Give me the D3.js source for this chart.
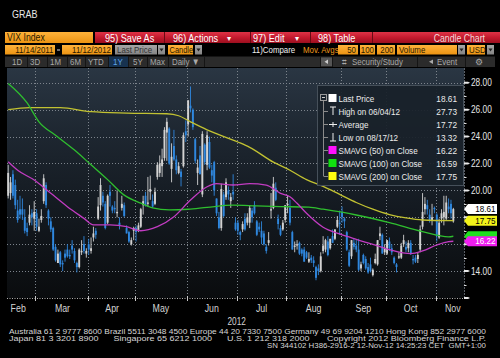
<!DOCTYPE html>
<html><head><meta charset="utf-8">
<script src="https://cdn.jsdelivr.net/npm/d3@7"></script>
<style>
html,body{margin:0;padding:0;background:#000;overflow:hidden;}
svg{display:block;}
text{font-family:"Liberation Sans",Arial,sans-serif;}
</style></head><body>
<svg id="c" width="500" height="358"></svg>
<script>
// ---------------- DATA ----------------
const monthLabels = ["Feb","Mar","Apr","May","Jun","Jul","Aug","Sep","Oct","Nov"];
// index of first trading day of each month (Feb starts at 13-Feb-2012)
const monthStartIdx = [0, 12, 34, 54, 76, 97, 118, 141, 160, 181];
const yearLabel = "2012";
const yTicks = [14, 16, 18, 20, 22, 24, 26, 28];
const yMinorTicks = [13, 15, 17, 19, 21, 23, 25, 27];

// daily VIX candles [open, high, low, close], 13-Feb-2012 .. 12-Nov-2012
const candleOHLC = [
[19.6,21.9,19.4,21.3],[19.8,21.0,19.3,20.6],[21.2,21.5,19.4,19.6],[20.4,20.8,18.6,18.9],[18.5,19.3,17.6,17.8],
[18.6,19.6,17.9,18.2],[18.6,19.4,17.8,18.2],[18.0,18.6,16.8,17.0],[17.2,17.6,16.6,16.9],[17.6,18.9,17.4,18.2],
[18.3,18.6,17.4,18.0],[17.9,19.2,17.0,18.4],
[18.3,18.6,17.0,17.3],[17.0,17.9,16.9,17.3],[17.8,18.6,17.6,18.1],[19.2,21.2,19.0,20.9],[20.4,20.6,18.7,18.9],
[18.5,18.6,17.4,17.9],[17.7,18.0,16.9,17.1],[17.2,17.3,15.5,15.6],[15.8,16.0,14.7,14.8],[14.6,15.6,14.6,15.3],
[15.4,15.5,14.3,14.5],[14.6,14.8,14.0,14.5],[15.3,15.6,14.7,15.0],[15.6,16.0,15.0,15.1],[15.2,15.6,14.9,15.1],
[15.9,16.3,15.3,15.6],[15.5,15.7,14.6,14.8],[14.6,14.7,13.9,14.3],[14.3,15.7,14.2,15.6],[15.4,16.3,15.2,15.5],
[16.0,16.6,15.3,15.5],[15.3,15.7,15.0,15.5],
[16.0,16.4,15.2,15.6],[15.5,16.5,15.3,15.7],[16.5,17.3,16.2,16.8],[17.0,17.2,16.4,16.7],[17.9,19.5,17.8,18.8],
[18.9,20.9,18.5,20.4],[19.6,19.9,18.8,19.1],[19.0,19.2,17.1,17.2],[17.6,19.7,17.5,19.6],[19.9,20.4,18.8,19.6],
[18.8,18.9,18.3,18.5],[18.7,19.2,18.3,18.6],[18.3,20.0,18.0,18.4],[17.6,18.0,17.1,17.4],[18.7,19.6,18.5,19.0],
[18.9,19.1,18.0,18.1],[17.2,17.4,16.8,16.8],[16.9,17.0,16.1,16.2],[16.0,16.5,15.9,16.3],[17.0,17.3,16.3,17.2],
[17.2,17.4,16.2,16.9],[17.0,17.6,16.9,17.4],[17.3,18.7,17.2,18.6],[18.9,19.6,18.2,19.2],[19.6,19.9,18.8,18.9],
[19.0,21.0,18.8,19.1],[19.9,21.1,19.3,20.1],[19.2,19.7,18.7,18.8],[19.0,20.2,18.9,19.9],[21.0,22.1,20.8,21.9],
[21.3,22.6,21.0,22.0],[21.8,23.1,21.0,22.3],[22.4,24.7,22.2,24.5],[24.3,25.4,22.2,25.1],[24.6,24.7,21.9,22.0],
[21.6,23.5,20.6,22.5],[23.3,24.5,22.2,22.3],[22.3,22.6,21.2,21.5],[21.3,22.1,21.2,21.8],[21.4,21.6,20.3,21.0],
[21.8,24.3,21.7,24.1],[24.4,25.2,23.6,24.1],
[24.9,26.7,24.0,26.7],[26.3,27.73,25.8,26.1],[26.0,26.1,24.5,24.7],[23.8,23.9,22.0,22.2],[21.3,22.3,20.4,21.7],
[22.6,23.3,21.2,21.2],[19.7,24.4,19.5,24.2],[23.4,23.5,21.9,22.1],[21.9,24.4,21.5,24.1],[23.6,24.0,21.6,21.7],
[21.5,21.9,20.6,21.1],[22.1,22.2,19.6,20.0],[19.4,19.4,18.1,18.3],[18.0,18.4,17.1,17.2],[17.2,20.5,17.0,20.1],
[19.7,19.9,18.0,18.1],[19.5,20.9,19.3,20.6],[20.0,20.3,19.3,19.7],[19.2,19.8,18.7,19.5],[19.9,21.2,19.3,19.7],
[17.6,18.0,17.0,17.1],
[17.6,17.8,16.7,17.0],[16.9,17.0,16.3,16.7],[17.1,17.7,16.9,17.5],[17.9,18.3,17.0,17.1],[17.6,18.3,17.4,18.0],
[17.6,18.9,17.2,18.7],[18.5,18.7,17.6,18.0],[18.9,19.2,18.2,18.3],[17.7,17.8,16.6,16.7],[17.3,17.6,16.9,17.1],
[17.0,17.7,16.0,16.5],[16.8,17.0,15.9,16.0],[15.8,16.0,15.3,15.5],[16.1,16.9,15.9,16.3],[18.5,19.8,17.9,18.6],
[18.7,21.0,18.6,20.5],[20.2,20.6,19.2,19.3],[17.9,18.2,17.1,17.5],[17.2,17.4,16.6,16.7],[17.1,17.8,17.0,17.6],
[17.8,18.9,17.6,18.9],
[18.9,19.6,18.3,19.0],[18.7,19.3,17.4,17.6],[16.9,17.0,15.6,15.6],[15.8,16.2,15.4,15.9],[15.9,16.3,15.6,16.0],
[16.1,16.2,15.2,15.3],[15.6,15.7,15.1,15.3],[15.6,15.8,14.7,14.7],[15.4,15.5,14.9,15.0],[14.7,15.4,14.6,14.9],
[15.0,15.2,14.6,14.8],[14.8,15.1,14.3,14.6],[14.3,14.4,13.32,13.5],[14.2,14.5,13.7,14.0],[14.0,15.4,13.9,15.1],
[15.5,16.6,15.3,15.9],[15.6,16.4,15.4,16.3],[16.2,16.6,15.1,15.2],[15.7,16.4,15.6,16.4],[16.6,17.1,16.1,16.1],
[16.4,17.1,16.3,17.1],[17.3,18.1,17.2,17.8],[17.6,18.5,16.7,17.5],
[18.4,18.8,17.6,18.0],[17.9,18.0,17.2,17.7],[16.9,17.0,15.5,15.6],[15.4,15.6,14.3,14.4],[15.1,16.3,14.9,16.3],
[16.1,16.4,15.6,15.8],[15.9,16.3,15.4,15.6],[15.6,16.4,14.0,14.1],[14.2,14.7,14.0,14.5],[15.2,15.3,14.5,14.6],
[14.9,15.1,14.1,14.2],[14.3,14.6,13.8,13.9],[14.5,15.0,13.9,14.0],[13.7,14.2,13.6,14.1],[14.6,15.3,14.5,14.9],
[14.5,16.3,14.4,16.3],[16.6,17.3,16.3,16.8],[16.7,16.8,15.3,15.3],[15.4,16.0,15.2,15.7],
[15.3,16.3,15.2,16.3],[16.2,16.5,15.5,15.7],[15.7,16.0,15.2,15.4],[15.0,15.1,14.5,14.6],[14.5,14.6,13.9,14.3],
[15.0,15.4,14.9,15.1],[15.0,16.1,14.9,15.9],[16.0,16.7,15.8,16.3],[15.8,16.2,15.4,15.6],[15.7,16.3,15.4,16.1],
[16.1,16.3,15.2,15.3],[14.9,15.2,14.5,14.8],[15.0,15.2,14.6,14.7],[14.9,15.4,14.6,15.2],[15.6,17.4,15.4,17.1],
[17.3,19.8,17.1,18.4],[18.6,19.5,18.2,19.0],[18.9,19.3,18.2,18.6],[18.2,18.6,17.6,17.8],[17.8,19.0,17.4,18.0],
[18.7,18.8,18.3,18.6],
[18.2,18.3,16.2,16.6],[16.5,17.9,16.4,17.6],[17.9,18.6,17.6,18.3],[18.0,19.6,17.4,18.4],[17.9,19.6,17.8,19.1],
[18.8,19.4,18.3,18.6],[19.0,19.3,17.9,18.3],[17.7,18.7,17.6,18.61]
];

// moving averages: [candle index, value]
const sma50 = [[0,22.13],[4,21.5],[11,20.77],[18,19.78],[25,18.79],[32,17.92],[36,17.43],[43,17.43],[50,17.3],
  [56,17.0],[63,17.3],[70,18.04],[77,19.28],[84,20.27],[88,20.5],[95,20.4],[102,20.5],[109,20.4],[115,19.78],
  [119,19.53],[122,19.04],[126,18.3],[133,17.26],[140,16.76],[147,16.36],[154,15.99],[161,15.6],[170,15.3],
  [175,15.5],[181,15.94],[186,16.19],[188,16.22]];
const sma100 = [[0,27.95],[8,26.5],[13,25.1],[20,24.1],[28,23.0],[35,21.9],[42,20.8],[49,19.65],[56,19.05],
  [61,18.7],[68,18.55],[76,18.6],[84,18.74],[95,18.9],[105,18.85],[115,18.8],[127,18.75],[133,18.6],[147,18.17],
  [161,17.6],[175,16.93],[186,16.55],[188,16.59]];
const sma200 = [[0,26.0],[9,26.15],[22,26.15],[35,25.85],[50,25.75],[67,25.7],[72,25.55],[77,25.1],[84,24.5],
  [97,23.6],[102,23.2],[112,22.1],[119,21.5],[126,20.8],[133,20.3],[140,19.7],[147,19.1],[154,18.6],[161,18.2],
  [168,17.95],[175,17.8],[188,17.75]];

const legendLabels = ["Last Price","High on 06/04/12","Average","Low on 08/17/12",
  "SMAVG (50) on Close","SMAVG (100) on Close","SMAVG (200) on Close"];
const legendValues = ["18.61","27.73","17.72","13.32","16.22","16.59","17.75"];
const lastPrice = 18.61, sma50Last = 16.22, sma100Last = 16.59, sma200Last = 17.75;

const footerLines = [
 "Australia 61 2 9777 8600 Brazil 5511 3048 4500 Europe 44 20 7330 7500 Germany 49 69 9204 1210 Hong Kong 852 2977 6000",
 "Japan 81 3 3201 8900      Singapore 65 6212 1000      U.S. 1 212 318 2000       Copyright 2012 Bloomberg Finance L.P.",
 "SN 344102 H386-2916-2 12-Nov-12 14:25:23 CET  GMT+1:00"
];

// ---------------- DRAW ----------------
const svg = d3.select("#c");
svg.append("rect").attr("width",500).attr("height",358).attr("fill","#000");
const defs = svg.append("defs");
function grad(id, stops){
  const g = defs.append("linearGradient").attr("id",id).attr("x1",0).attr("y1",0).attr("x2",0).attr("y2",1);
  stops.forEach(s=>g.append("stop").attr("offset",s[0]).attr("stop-color",s[1]));
}
grad("bg",[[0,"#2a3643"],[0.28,"#1e2731"],[0.6,"#141a21"],[1,"#0a0c0e"]]);
grad("red",[[0,"#de3346"],[0.5,"#c41a2e"],[1,"#9c0f1f"]]);
grad("org",[[0,"#ffb23a"],[1,"#ec9413"]]);
grad("gry",[[0,"#a6a6a6"],[1,"#848484"]]);

function T(parent, x, y, s, o={}){
  const t = parent.append("text").attr("x",x).attr("y",y).text(s)
    .attr("font-size", o.size||10).attr("fill", o.fill||"#fff")
    .attr("text-anchor", o.anchor||"start");
  if (o.family) t.attr("font-family", o.family);
  if (o.pre) t.attr("xml:space","preserve").style("white-space","pre");
  if (o.len) t.attr("textLength",o.len).attr("lengthAdjust","spacingAndGlyphs");
  else {
    const cf = o.cond===undefined ? 0.83 : o.cond;
    if (cf!==1){ const L=t.node().getComputedTextLength(); t.attr("textLength",L*cf).attr("lengthAdjust","spacingAndGlyphs"); }
  }
  return t;
}

// ---- header ----
const hd = svg.append("g");
T(hd, 12, 17.5, "GRAB", {size:11.5, fill:"#e8e8e8", cond:0.78});
// row 1
hd.append("rect").attr("x",5).attr("y",32).attr("width",88).attr("height",11).attr("fill","url(#org)");
T(hd, 7, 41, "VIX Index", {size:10.5, fill:"#2a1a00"});
hd.append("rect").attr("x",95).attr("y",32).attr("width",405).attr("height",11).attr("fill","url(#red)");
[164, 250, 310, 372].forEach(sx=>hd.append("rect").attr("x",sx).attr("y",32).attr("width",1).attr("height",11).attr("fill","#6a0a14"));
T(hd, 105, 41.5, "95) Save As", {size:11});
T(hd, 173, 41.5, "96) Actions", {size:11});
T(hd, 227, 41, "▾", {size:8, cond:1});
T(hd, 253, 41.5, "97) Edit", {size:11});
T(hd, 295, 41, "▾", {size:8, cond:1});
T(hd, 318, 41.5, "98) Table", {size:11});
T(hd, 485, 41.5, "Candle Chart", {size:10.5, fill:"#f4dada", anchor:"end"});
// row 2
function box(x,w,fill){ hd.append("rect").attr("x",x).attr("y",45).attr("width",w).attr("height",9.5).attr("fill",fill); }
function dd(x){
  box(x,7,"url(#gry)");
  hd.append("path").attr("d",`M${x+1.5},48.5L${x+5.5},48.5L${x+3.5},51.5Z`).attr("fill","#222");
}
box(5,50,"url(#org)"); T(hd, 53.5, 53, "11/14/2011", {size:9.5, fill:"#2a1a00", anchor:"end"});
hd.append("rect").attr("x",57).attr("y",49.5).attr("width",3).attr("height",1).attr("fill","#ddd");
box(62,50,"url(#org)"); T(hd, 111, 53, "11/12/2012", {size:9.5, fill:"#2a1a00", anchor:"end"});
box(115,42,"url(#gry)"); T(hd, 117, 53, "Last Price", {size:9.5, fill:"#333"});
dd(158);
box(168,25,"url(#org)"); T(hd, 169.5, 53, "Candle", {size:9, fill:"#2a1a00"});
dd(195);
T(hd, 252, 53, "11)Compare", {size:9.5, fill:"#f0f0f0"});
T(hd, 303, 53, "Mov. Avgs", {size:9.5, fill:"#f09a1c"});
box(338,20,"url(#org)"); T(hd, 356, 53, "50", {size:9.5, fill:"#2a1a00", anchor:"end"});
box(360,15,"url(#org)"); T(hd, 374, 53, "100", {size:9.5, fill:"#2a1a00", anchor:"end"});
box(377,18,"url(#org)"); T(hd, 393.5, 53, "200", {size:9.5, fill:"#2a1a00", anchor:"end"});
box(397,60,"url(#org)"); T(hd, 399, 53, "Volume", {size:9.5, fill:"#2a1a00"});
dd(458);
box(467,18,"url(#org)"); T(hd, 469, 53, "USD", {size:9.5, fill:"#2a1a00"});
dd(487);
// row 3
hd.append("rect").attr("x",5).attr("y",56.5).attr("width",490).attr("height",10.5).attr("fill","#2b2b2b");
hd.append("rect").attr("x",108).attr("y",56.5).attr("width",20).attr("height",10.5).attr("fill","#17324f");
[27,47,67,85,108,128,147,168,204,320,332,417,465].forEach(sx=>hd.append("rect").attr("x",sx).attr("y",56.5).attr("width",1).attr("height",10.5).attr("fill","#151515"));
[["1D",12],["3D",30],["1M",50],["6M",70],["YTD",88],["5Y",133],["Max",150],["Daily ▼",172]].forEach(d=>
  T(hd, d[1], 64.8, d[0], {size:9.5, fill:"#a9a9a9"}));
T(hd, 113, 64.8, "1Y", {size:9.5, fill:"#5ea3ea"});
hd.append("rect").attr("x",321).attr("y",57.5).attr("width",11).attr("height",8.5).attr("fill","#555");
hd.append("path").attr("d","M328,59.5L324.5,61.8L328,64Z").attr("fill","#ccc");
T(hd, 342, 64.8, "⌗", {size:8, fill:"#a9a9a9", cond:1});
T(hd, 352, 64.8, "Security/Study", {size:9.5, fill:"#a9a9a9"});
hd.append("path").attr("d","M433,59.5L429,61.8L433,64Z").attr("fill","#a9a9a9");
T(hd, 437, 64.8, "Event", {size:9.5, fill:"#a9a9a9"});
T(hd, 479, 65, "⚙", {size:8.5, fill:"#a9a9a9", anchor:"middle", cond:1});

// ---- plot ----
const PL=7, PR=464, PT=68, PB=298;
const x = d3.scaleLinear().domain([-0.5, 192.5]).range([PL, PR]);
const y = d3.scaleLinear().domain([12, 29.1]).range([PB, PT]);
const plot = svg.append("g");
plot.append("rect").attr("x",PL).attr("y",PT).attr("width",PR-PL).attr("height",PB-PT).attr("fill","url(#bg)");
defs.append("clipPath").attr("id","clip").append("rect").attr("x",PL).attr("y",PT).attr("width",PR-PL).attr("height",PB-PT);

const boundaries = monthStartIdx.slice(1).map(i=>x(i-0.5));
// grid
const grid = plot.append("g").attr("stroke","#7d848c").attr("stroke-width",1).attr("stroke-dasharray","1,2").attr("fill","none");
grid.selectAll("line.h").data(yTicks).join("line").attr("class","h")
  .attr("x1",PL).attr("x2",PR).attr("y1",d=>Math.round(y(d))+0.5).attr("y2",d=>Math.round(y(d))+0.5);
grid.selectAll("line.v").data(boundaries).join("line").attr("class","v")
  .attr("y1",PT).attr("y2",PB).attr("x1",d=>Math.round(d)+0.5).attr("x2",d=>Math.round(d)+0.5);

// candles
const cg = plot.append("g").attr("clip-path","url(#clip)");
const upC = "#d2d2d2", dnC = "#2f87de";
const cd = candleOHLC.map((r,i)=>({i, o:r[0], h:r[1], l:r[2], c:r[3]}));
cg.selectAll("line.w").data(cd).join("line").attr("class","w")
  .attr("x1",d=>x(d.i)).attr("x2",d=>x(d.i)).attr("y1",d=>y(d.h)).attr("y2",d=>y(d.l))
  .attr("stroke",d=>d.c>=d.o?upC:dnC).attr("stroke-width",0.9);
cg.selectAll("rect.b").data(cd).join("rect").attr("class","b")
  .attr("x",d=>x(d.i)-0.95).attr("width",1.9)
  .attr("y",d=>Math.min(y(d.o),y(d.c))).attr("height",d=>Math.max(1,Math.abs(y(d.o)-y(d.c))))
  .attr("fill",d=>d.c>=d.o?upC:dnC);

// moving averages
const ln = d3.line().x(d=>x(d[0])).y(d=>y(d[1])).curve(d3.curveMonotoneX);
[[sma200,"#c2c232"],[sma100,"#2fbf2f"],[sma50,"#c23cc2"]].forEach(s=>
  cg.append("path").attr("d",ln(s[0])).attr("fill","none").attr("stroke",s[1]).attr("stroke-width",1.3));

// bottom axis
const ax = svg.append("g");
ax.append("line").attr("x1",PL).attr("x2",PR).attr("y1",PB+0.5).attr("y2",PB+0.5)
  .attr("stroke","#b0b0b0").attr("stroke-dasharray","1,1.5");
ax.selectAll("line.t").data(boundaries).join("line").attr("class","t")
  .attr("x1",d=>Math.round(d)+0.5).attr("x2",d=>Math.round(d)+0.5).attr("y1",PB-2).attr("y2",PB+3)
  .attr("stroke","#c8c8c8");
const mEdges = [PL, ...boundaries, PR];
const mOffset = [-3,1,1,0,0,0,0,0,0,3];
monthLabels.forEach((m,k)=>T(ax, (mEdges[k]+mEdges[k+1])/2 + mOffset[k], 312, m, {size:11, fill:"#d4d4d4", anchor:"middle", cond:0.8}));
T(ax, boundaries[4], 325, yearLabel, {size:11, fill:"#d4d4d4", anchor:"middle", cond:0.75});

// right axis
const tagValues = [lastPrice, sma200Last, sma100Last, sma50Last];
ax.append("line").attr("x1",PR+0.5).attr("x2",PR+0.5).attr("y1",PT).attr("y2",PB)
  .attr("stroke","#5a5f66").attr("stroke-dasharray","2,1");
ax.selectAll("line.mn").data(yMinorTicks).join("line").attr("class","mn")
  .attr("x1",PR).attr("x2",PR+2.5).attr("y1",d=>Math.round(y(d))+0.5).attr("y2",d=>Math.round(y(d))+0.5)
  .attr("stroke","#dcdcdc");
ax.selectAll("path.mj").data([...yTicks, 12]).join("path").attr("class","mj")
  .attr("d",d=>{const yy=y(d); return `M${PR},${yy-1}L${PR+4},${yy-1}L${PR+6},${yy}L${PR+4},${yy+1}L${PR},${yy+1}Z`;})
  .attr("fill","#e8e8e8");
// tick labels hidden behind the price tags (as in the reference) are not drawn
yTicks.filter(v=>!tagValues.some(t=>Math.abs(y(t)-y(v))<9))
  .forEach(v=>T(ax, 471, y(v)+3.6, v.toFixed(2), {size:10, fill:"#e6e6e6", cond:0.83}));

// legend
const lg = svg.append("g");
lg.append("rect").attr("x",317.5).attr("y",85.5).attr("width",146).attr("height",100)
  .attr("fill","#19212a").attr("fill-opacity",0.93).attr("stroke","#46505a");
const rowY = legendLabels.map((_,k)=>98 + k*13);
lg.append("line").attr("x1",323.5).attr("x2",323.5).attr("y1",101).attr("y2",rowY[6]).attr("stroke","#8a8a8a");
rowY.slice(1).forEach(ry=>lg.append("line").attr("x1",323.5).attr("x2",328).attr("y1",ry+0.5).attr("y2",ry+0.5).attr("stroke","#8a8a8a"));
lg.append("rect").attr("x",320.5).attr("y",94.5).attr("width",6).attr("height",6).attr("fill","none").attr("stroke","#9a9a9a");
lg.append("line").attr("x1",322).attr("x2",325).attr("y1",97.5).attr("y2",97.5).attr("stroke","#cfcfcf");
lg.append("rect").attr("x",328.5).attr("y",94).attr("width",8).attr("height",8).attr("fill","#fff");
lg.append("path").attr("d",`M330,${rowY[1]-4}h6M333,${rowY[1]-4}v8`).attr("stroke","#eee").attr("fill","none");
lg.append("path").attr("d",`M329,${rowY[2]+0.5}h8M333,${rowY[2]-2}v5`).attr("stroke","#eee").attr("fill","none");
lg.append("path").attr("d",`M333,${rowY[3]-4}v8M330,${rowY[3]+4}h6`).attr("stroke","#eee").attr("fill","none");
[["#ff10ff",4],["#10e010",5],["#ffff10",6]].forEach(c=>
  lg.append("rect").attr("x",328.5).attr("y",rowY[c[1]]-4).attr("width",8).attr("height",8).attr("fill",c[0]));
legendLabels.forEach((s,k)=>T(lg, 338.5, rowY[k]+3.5, s, {size:9.6, fill:"#ececec", cond:0.84}));
legendValues.forEach((s,k)=>T(lg, 457, rowY[k]+3.5, s, {size:9.6, fill:"#ececec", anchor:"end", cond:0.86}));

// price tags on the right axis
function tag(v, fill, tcol, showText){
  const yy = y(v);
  svg.append("path").attr("d",`M${PR},${yy}L${PR+4},${yy-5}L497,${yy-5}L497,${yy+5}L${PR+4},${yy+5}Z`).attr("fill",fill);
  if (showText) T(svg, 495.5, yy+3.2, v.toFixed(2), {size:9, fill:tcol, anchor:"end", cond:0.9});
}
tag(lastPrice, "#ffffff", "#000", true);
tag(sma200Last, "#f2f21a", "#000", true);
tag(sma100Last, "#1ee01e", "#000", false);
tag(sma50Last, "#f01ef0", "#fff", true);

// footer
const ft = svg.append("g");
T(ft, 9, 334, footerLines[0], {size:7, family:"DejaVu Sans Mono", fill:"#d6d6d6", len:477, pre:true});
T(ft, 9, 341, footerLines[1], {size:7, family:"DejaVu Sans Mono", fill:"#d6d6d6", len:477, pre:true});
T(ft, 486, 347.8, footerLines[2], {size:7, family:"DejaVu Sans Mono", fill:"#d6d6d6", len:219, pre:true, anchor:"end"});
</script>
</body></html>
